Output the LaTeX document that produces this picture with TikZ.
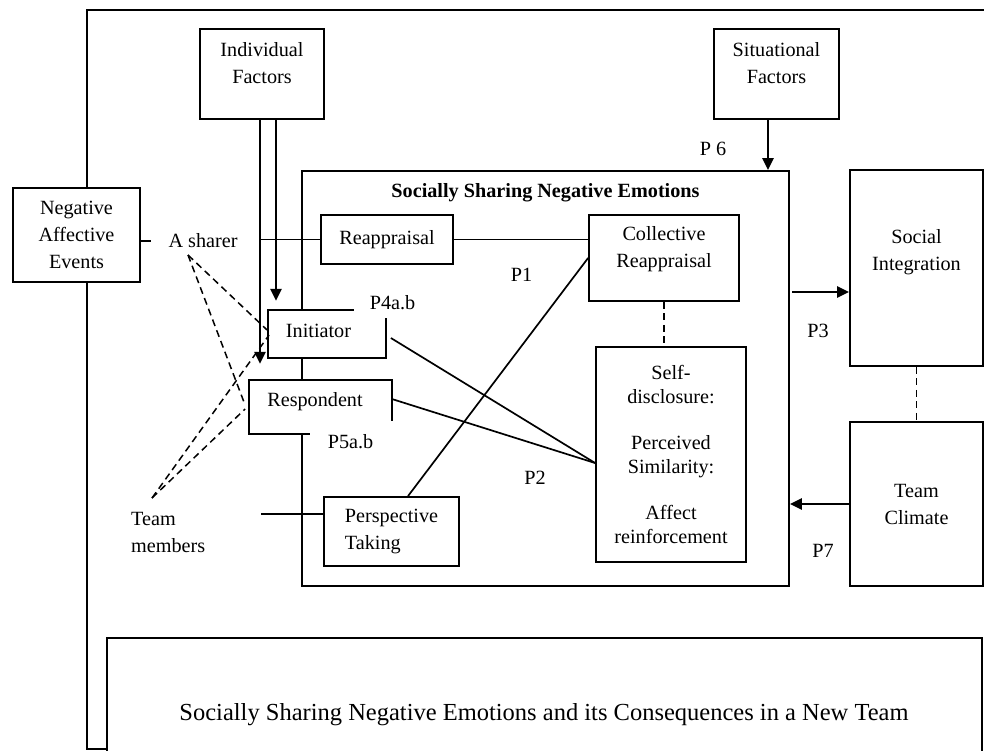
\documentclass[tikz,border=0pt]{standalone}
\usepackage{fontspec}
\setmainfont{Liberation Serif}
\usetikzlibrary{arrows.meta, positioning}
\newcommand{\bodyfont}{\fontsize{20.2}{27}\selectfont}

\begin{document}
\begin{tikzpicture}[
    x=1pt, y=-1pt,
    box/.style={draw, rectangle, fill=white, line width=1.8pt, align=center, inner sep=0pt, font=\bodyfont},
    txt/.style={align=center, inner sep=0pt, font=\bodyfont},
    plabel/.style={inner sep=0pt, font=\bodyfont},
    link/.style={line width=1.7pt},
    dlink/.style={line width=1.5pt, dash pattern=on 7pt off 4.5pt},
    arrow/.style={-{Triangle[length=12pt, width=11pt]}, line width=2.3pt}
]
    \useasboundingbox (0,0) rectangle (984,750);

    % outer frame and the caption box below
    \draw[link] (984,10) -- (87,10) -- (87,749) -- (107,749);
    \draw[link] (107,752) -- (107,638) -- (982,638) -- (982,752);
    \node (caption) [txt, font=\fontsize{24.5}{30}\selectfont] at (544,715) {Socially Sharing Negative Emotions and its Consequences in a New Team};

    % main box
    \node (ssne) [box, minimum width=487pt, minimum height=415pt] at (545.5,378.5) {};
    \node (ssne-title) [txt, font=\bodyfont\bfseries] at (545.5,193) {Socially Sharing Negative Emotions};

    % outside boxes
    \node (nae) [box, minimum width=127pt, minimum height=94pt] at (76.5,235) {Negative\\Affective\\Events};
    \node (indf) [box, minimum width=124pt, minimum height=90pt] at (262,74) {};
    \node (indf-txt) [txt] at (262,63.5) {Individual\\Factors};
    \node (sitf) [box, minimum width=125pt, minimum height=90pt] at (776.5,74) {};
    \node (sitf-txt) [txt] at (776.5,63.5) {Situational\\Factors};
    \node (soci) [box, minimum width=133pt, minimum height=196pt] at (916.5,268) {};
    \node (soci-txt) [txt] at (916.5,252.5) {Social\\Integration};
    \node (tclm) [box, minimum width=133pt, minimum height=164pt] at (916.5,504) {Team\\Climate};

    % inner boxes
    \node (reap) [box, minimum width=132pt, minimum height=49pt] at (387,239.5) {Reappraisal};
    \node (colr) [box, minimum width=150pt, minimum height=86pt] at (664,258) {};
    \node (colr-txt) [txt] at (664,249.5) {Collective\\Reappraisal};
    \node (sdis) [box, minimum width=150pt, minimum height=215pt, font=\fontsize{20.2}{24}\selectfont] at (671,454.5) {Self-\\disclosure:\\[22pt]Perceived\\Similarity:\\[22pt]Affect\\reinforcement};
    \node (pers) [box, align=left, minimum width=135pt, minimum height=69pt] at (391.5,531.5) {Perspective\\Taking};

    \node (init) [box, draw=none, minimum width=116pt, minimum height=46pt] at (327,334) {};
    \draw[link] ([yshift=-8pt]init.north east) -- (init.south east) -- (init.south west) -- (init.north west) -- ([xshift=-32pt]init.north east);
    \node (init-txt) [txt] at (318.5,331) {Initiator};
    \node (resp) [box, draw=none, minimum width=141pt, minimum height=52pt] at (320.5,407) {};
    \draw[link] ([yshift=13pt]resp.south east) -- (resp.north east) -- (resp.north west) -- (resp.south west) -- ([xshift=61pt]resp.south west);
    \node (resp-txt) [txt] at (315,402) {Respondent};

    % people
    \node (sharer) [txt] at (203,241) {A sharer};
    \node (team) [txt, align=left, anchor=west] at (131,532.5) {Team\\members};
    \coordinate (shr) at (188,255);
    \coordinate (tm) at (152,498);
    \coordinate (tmend) at (261,514);
    \coordinate (p3start) at (792,292);

    % propositions
    \node (p1) [plabel] at (521.5,275) {P1};
    \node (p2) [plabel] at (535,478) {P2};
    \node (p3) [plabel] at (818,331) {P3};
    \node (p4) [plabel] at (392.5,303) {P4a.b};
    \node (p5) [plabel] at (350.5,442) {P5a.b};
    \node (p6) [plabel] at (713,149) {P 6};
    \node (p7) [plabel] at (823,551) {P7};

    % connectors
    \draw[link] ([yshift=-6pt]nae.east) -- ++(10,0);
    \draw[arrow] ([xshift=-2pt]indf.south) -- ++(0,244);
    \draw[arrow] ([xshift=14pt]indf.south) -- ++(0,181);
    \draw[link] ([xshift=-2pt]indf.south |- reap.west) -- (reap.west);
    \draw[link] (reap.east) -- (reap.east -| colr.west);
    \draw[link] ([xshift=16.5pt]pers.north) -- (colr.west);
    \draw[link] ([yshift=17.5pt]pers.west) -- (tmend);
    \draw[link] ([xshift=5pt,yshift=-4pt]init.east) -- ([yshift=-8.5pt]sdis.west);
    \draw[link] ([yshift=8pt]resp.east) -- ([yshift=-8.5pt]sdis.west);
    \draw[dlink] (colr.south) -- (colr.south |- sdis.north);
    \draw[dlink] (soci.south) -- (tclm.north);
    \draw[arrow] ([xshift=-8.5pt]sitf.south) -- ([xshift=-8.5pt]sitf.south |- ssne.north);
    \draw[arrow] (p3start) -- (p3start -| soci.west);
    \draw[arrow] (tclm.west) -- (tclm.west -| ssne.east);

    \draw[dlink] (shr) -- ([xshift=-1pt,yshift=4pt]init.west);
    \draw[dlink] (shr) -- ([xshift=-4pt,yshift=2pt]resp.west);
    \draw[dlink] (tm) -- ([xshift=1pt,yshift=-1pt]init.west);
    \draw[dlink] (tm) -- ([xshift=-4pt,yshift=-2pt]resp.west);
\end{tikzpicture}
\end{document}
